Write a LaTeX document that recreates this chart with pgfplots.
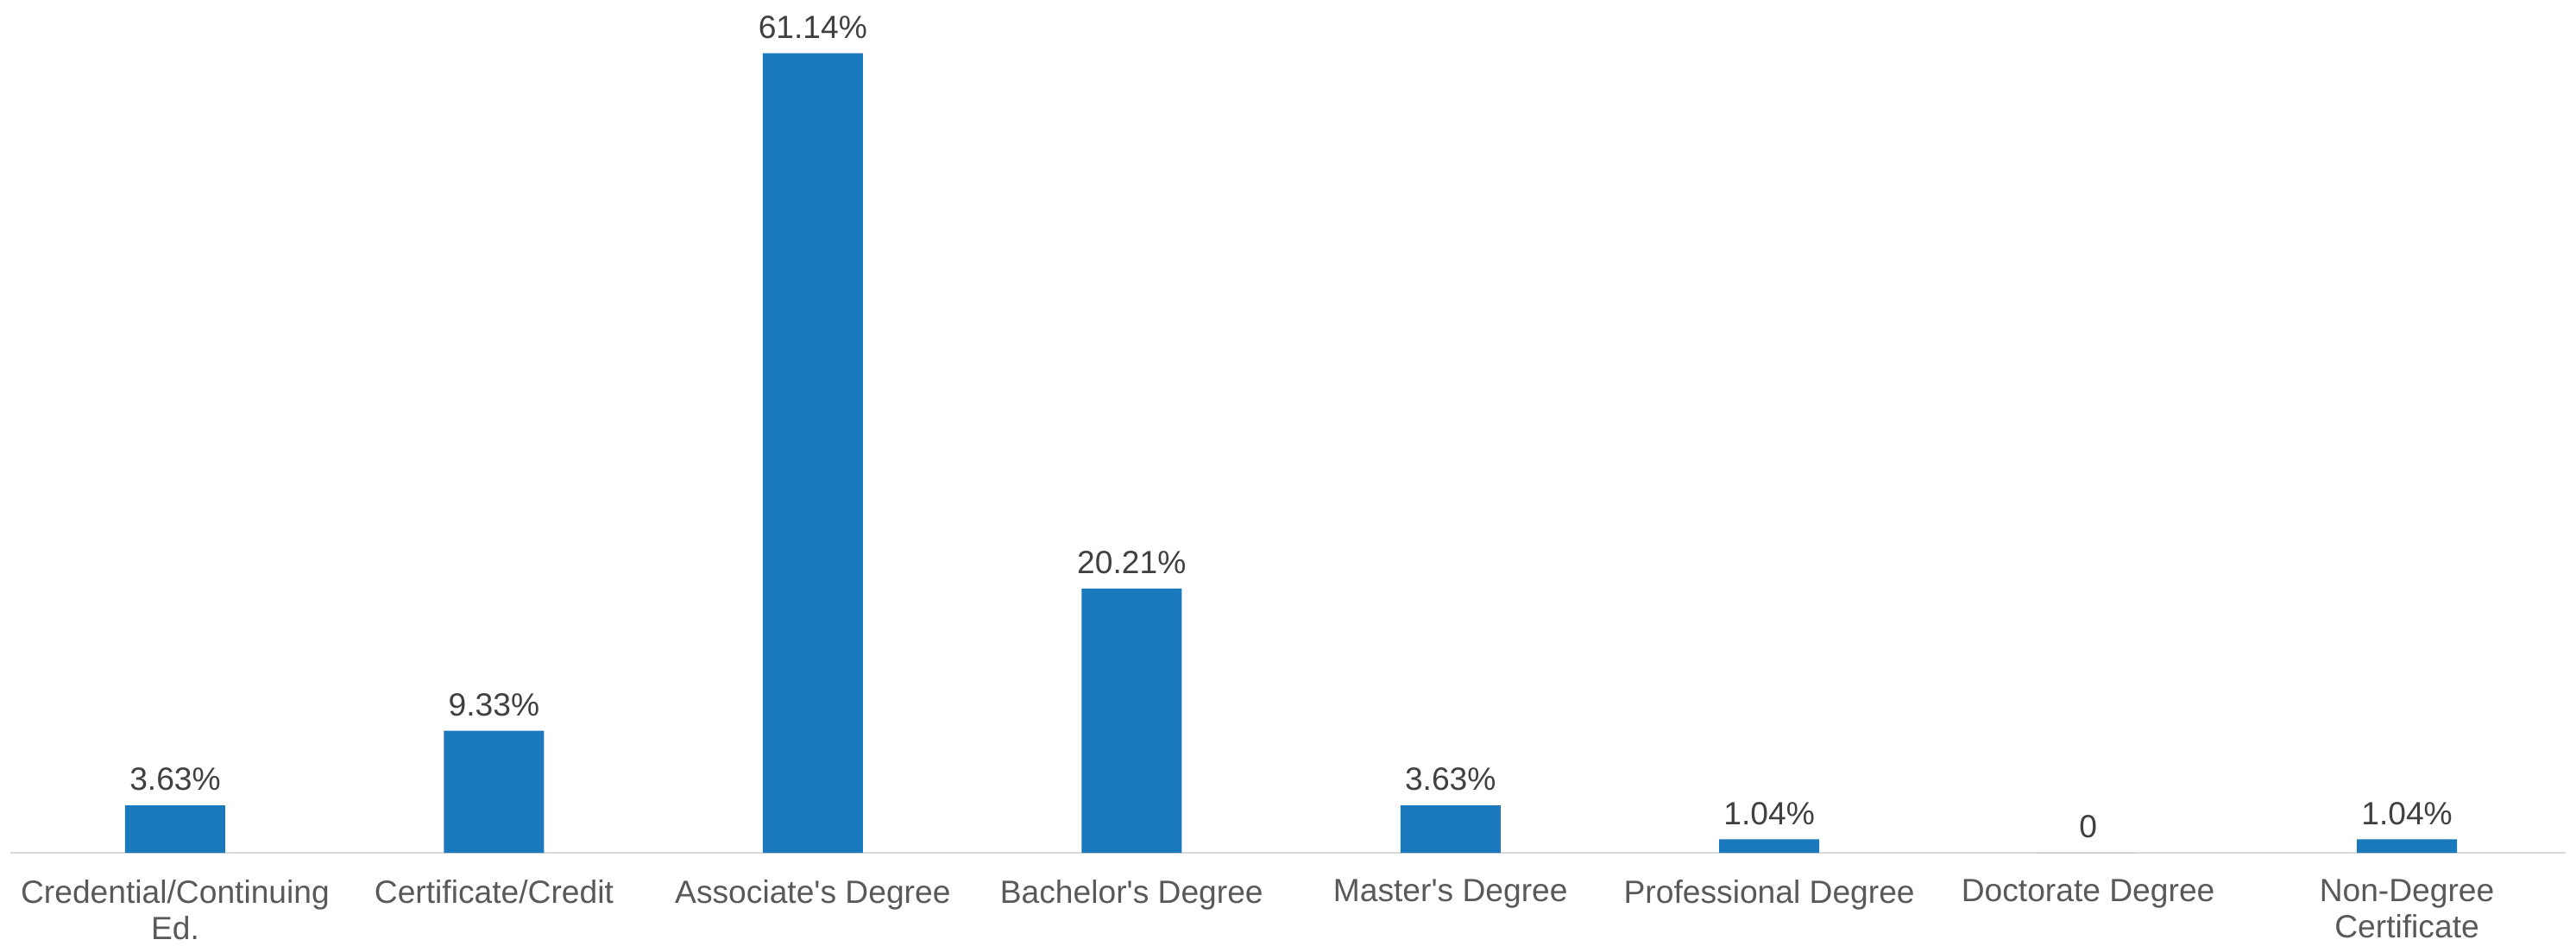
\documentclass[border=0pt]{standalone}
\usepackage{pgfplots}
\pgfplotsset{compat=1.18}
\usepackage{fontspec}
\setmainfont{Liberation Sans}

\definecolor{barblue}{RGB}{26,120,188}
\definecolor{ticklabelgray}{RGB}{89,89,89}
\definecolor{valuegray}{RGB}{64,64,64}
\definecolor{baselinegray}{RGB}{217,217,217}

\begin{document}
\begin{tikzpicture}
\begin{axis}[
  scale only axis,
  width=740.25pt, height=246.2pt,
  xmin=-0.517, xmax=7.498, ymin=0, ymax=65,
  ybar, bar width=29pt,
  axis y line=none,
  axis x line*=bottom,
  x axis line style={baselinegray, line width=0.7pt},
  xtick={0,...,7},
  xticklabels={{Credential/Continuing\\Ed.},{Certificate/Credit},{Associate\textquotesingle s Degree},{Bachelor\textquotesingle s Degree},{Master\textquotesingle s Degree},{Professional Degree},{Doctorate Degree},{Non-Degree\\Certificate}},
  xticklabel style={align=center, font=\fontsize{9.3}{10.5}\selectfont, text=ticklabelgray, yshift=-4.3pt},
  major tick length=0pt,
  point meta=explicit symbolic,
  nodes near coords,
  nodes near coords style={font=\fontsize{9.3}{10}\selectfont, text=valuegray, anchor=south, inner sep=0pt, yshift=4pt},
  clip=false,
]
\addplot[fill=barblue, draw=none] coordinates {
  (0,3.63)  [3.63\%]
  (1,9.33)  [9.33\%]
  (2,61.14) [61.14\%]
  (3,20.21) [20.21\%]
  (4,3.63)  [3.63\%]
  (5,1.04)  [1.04\%]
  (6,0)     [0]
  (7,1.04)  [1.04\%]
};
\end{axis}
\pgfresetboundingbox
\path (-3pt,-26.75pt) rectangle (743.25pt,247pt);
\end{tikzpicture}
\end{document}
